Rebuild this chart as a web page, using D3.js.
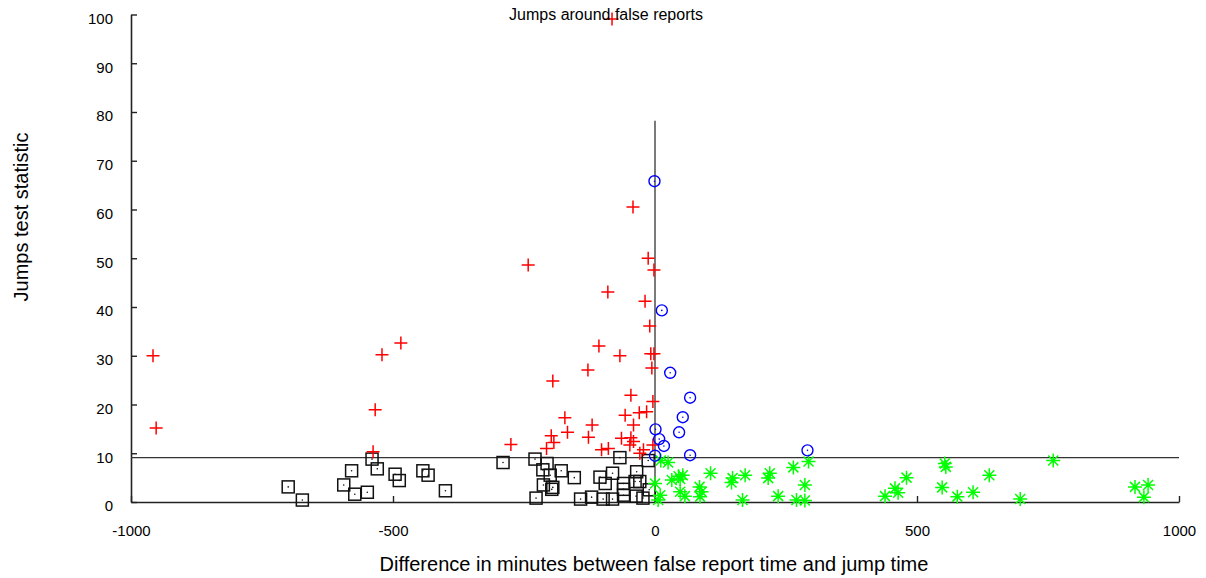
<!DOCTYPE html>
<meta charset="utf-8">
<style>
body { margin: 0; background: #fff; }
text { font-family: "Liberation Sans", Arial, sans-serif; fill: #000; }
</style>
<svg width="1206" height="578"></svg>
<script src="https://d3js.org/d3.v7.min.js"></script>
<script>

// jumps before the report (red +)
var redX = [-958, -952, -82, -521, -485, -534, -538, -242, -42, -90, -13, -2, -19, -10, -8, -2, -6,
            -107, -67, -195, -128, -46, -4, -57, -30, -16, -172, -120, -41, -167, -198, -127, -64,
            -275, -193, -207, -46, -41, -48, -102, -89, -29, -22, -4];
var redY = [30.0, 15.2, 99.1, 30.2, 32.6, 18.9, 10.3, 48.6, 60.5, 43.1, 50.0, 47.6, 41.2, 36.1, 30.4, 30.4, 27.5,
            32.0, 30.0, 24.8, 27.1, 21.9, 20.6, 17.8, 18.3, 18.5, 17.3, 15.8, 15.8, 14.3, 13.6, 13.3, 13.1,
            11.8, 12.2, 11.0, 13.2, 12.4, 11.7, 10.7, 11.0, 10.0, 10.7, 11.7];

// jumps after the report (blue o)
var blueX = [-1, 13, 29, 67, 53, 46, 1, 8, 17, 67, 0, 291];
var blueY = [65.8, 39.3, 26.5, 21.4, 17.4, 14.3, 14.9, 12.9, 11.5, 9.6, 9.5, 10.6];

// below threshold, before (black squares)
var blackX = [-700, -673, -579, -594, -573, -549, -540, -530, -496, -488, -443, -433, -400, -290, -229,
              -206, -214, -200, -213, -197, -195, -179, -154, -227, -142, -121, -105, -95, -81, -67,
              -99, -81, -60, -60, -60, -35, -38, -29, -36, -23, -13, -11];
var blackY = [3.1, 0.4, 6.4, 3.5, 1.6, 2.0, 8.8, 6.8, 5.7, 4.4, 6.4, 5.5, 2.3, 8.1, 8.8,
              7.9, 6.6, 5.5, 3.5, 2.6, 3.0, 6.4, 5.0, 0.8, 0.6, 1.0, 5.1, 3.8, 5.9, 9.1,
              0.6, 0.6, 3.8, 2.6, 1.4, 6.2, 4.2, 4.2, 1.2, 0.8, 8.5, 2.5];

// below threshold, after (green *)
var greenX = [11, 25, 0, 10, 6, 32, 45, 53, 48, 48, 57, 85, 89, 86, 106, 148, 146, 172, 167, 219, 216,
              264, 293, 286, 235, 270, 286, 439, 458, 464, 480, 553, 555, 548, 577, 607, 638, 697,
              760, 916, 941, 933];
var greenY = [8.5, 8.1, 3.8, 1.4, 0.4, 4.5, 5.3, 5.5, 4.7, 2.1, 1.2, 3.1, 2.1, 1.1, 5.9, 4.9, 4.0, 5.5, 0.4, 5.9, 4.9,
              7.1, 8.3, 3.5, 1.2, 0.4, 0.3, 1.2, 2.8, 1.9, 5.0, 7.9, 7.2, 3.0, 1.1, 2.0, 5.5, 0.6,
              8.5, 3.1, 3.5, 1.0];

var xTicks = [-1000, -500, 0, 500, 1000];
var yTicks = [0, 10, 20, 30, 40, 50, 60, 70, 80, 90, 100];
var threshold = 9.1;
var windowTop = 78.2;

var svg = d3.select("svg");

var x = d3.scaleLinear().domain([-1000, 1000]).range([131, 1179]);
var y = d3.scaleLinear().domain([0, 100]).range([502, 14.5]);

function plain(d) { return String(d); }  // hyphen minus, like the original

// axes, ticks pointing inward
svg.append("g")
    .attr("transform", "translate(0,502)")
    .call(d3.axisTop(x).tickValues(xTicks).tickSize(6).tickSizeOuter(0).tickFormat(plain))
    .call(function(g) {
      g.select(".domain").attr("stroke", "#222").attr("stroke-width", 1.6);
      g.selectAll(".tick line").attr("stroke", "#222").attr("stroke-width", 1.4);
      g.selectAll(".tick text").attr("y", 34).attr("dy", 0).style("font-size", "15px")
          .attr("font-family", "Liberation Sans, Arial, sans-serif").attr("fill", "#000");
    });

svg.append("g")
    .attr("transform", "translate(131,0)")
    .call(d3.axisRight(y).tickValues(yTicks).tickSize(6).tickSizeOuter(0).tickFormat(plain))
    .call(function(g) {
      g.select(".domain").attr("stroke", "#222").attr("stroke-width", 1.6);
      g.selectAll(".tick line").attr("stroke", "#222").attr("stroke-width", 1.4);
      g.selectAll(".tick text").attr("x", -18).attr("y", 4).attr("text-anchor", "end").style("font-size", "15px")
          .attr("font-family", "Liberation Sans, Arial, sans-serif").attr("fill", "#000");
    });

// threshold and report time lines
svg.append("line")
    .attr("x1", x(-1000)).attr("x2", x(1000))
    .attr("y1", y(threshold)).attr("y2", y(threshold))
    .attr("stroke", "#333").attr("stroke-width", 1.3);

svg.append("line")
    .attr("x1", x(0)).attr("x2", x(0))
    .attr("y1", y(0)).attr("y2", y(windowTop))
    .attr("stroke", "#333").attr("stroke-width", 1.3);

function pts(xs, ys) {
  return xs.map(function(v, i) { return [v, ys[i]]; });
}

// markers
var gBlack = svg.append("g");
gBlack.selectAll("rect").data(pts(blackX, blackY)).enter().append("rect")
    .attr("x", function(d) { return x(d[0]) - 6; })
    .attr("y", function(d) { return y(d[1]) - 6; })
    .attr("width", 12).attr("height", 12)
    .attr("fill", "none").attr("stroke", "#111").attr("stroke-width", 1.5);
gBlack.selectAll("circle").data(pts(blackX, blackY)).enter().append("circle")
    .attr("cx", function(d) { return x(d[0]); })
    .attr("cy", function(d) { return y(d[1]); })
    .attr("r", 0.8).attr("fill", "#111");

var gGreen = svg.append("g");
gGreen.selectAll("path").data(pts(greenX, greenY)).enter().append("path")
    .attr("d", function(d) {
      var cx = x(d[0]), cy = y(d[1]), r = 7, q = 5;
      return "M" + (cx - r) + "," + cy + "H" + (cx + r) +
             "M" + cx + "," + (cy - r) + "V" + (cy + r) +
             "M" + (cx - q) + "," + (cy - q) + "L" + (cx + q) + "," + (cy + q) +
             "M" + (cx - q) + "," + (cy + q) + "L" + (cx + q) + "," + (cy - q);
    })
    .attr("fill", "none").attr("stroke", "#00ff00").attr("stroke-width", 1.5);

var gRed = svg.append("g");
gRed.selectAll("path").data(pts(redX, redY)).enter().append("path")
    .attr("d", function(d) {
      var cx = x(d[0]), cy = y(d[1]), r = 6.5;
      return "M" + (cx - r) + "," + cy + "H" + (cx + r) + "M" + cx + "," + (cy - r) + "V" + (cy + r);
    })
    .attr("fill", "none").attr("stroke", "#ff0000").attr("stroke-width", 1.5);

var gBlue = svg.append("g");
gBlue.selectAll("circle.o").data(pts(blueX, blueY)).enter().append("circle")
    .attr("class", "o")
    .attr("cx", function(d) { return x(d[0]); })
    .attr("cy", function(d) { return y(d[1]); })
    .attr("r", 5.5).attr("fill", "none").attr("stroke", "#0000ff").attr("stroke-width", 1.4);
gBlue.selectAll("circle.c").data(pts(blueX, blueY)).enter().append("circle")
    .attr("class", "c")
    .attr("cx", function(d) { return x(d[0]); })
    .attr("cy", function(d) { return y(d[1]); })
    .attr("r", 0.8).attr("fill", "#0000ff");

// labels
svg.append("text")
    .attr("x", 606).attr("y", 20)
    .attr("text-anchor", "middle")
    .style("font-size", "16px")
    .text("Jumps around false reports");

svg.append("text")
    .attr("x", 654).attr("y", 571)
    .attr("text-anchor", "middle")
    .style("font-size", "20px")
    .text("Difference in minutes between false report time and jump time");

svg.append("text")
    .attr("transform", "translate(28,217) rotate(-90)")
    .attr("text-anchor", "middle")
    .style("font-size", "20px")
    .text("Jumps test statistic");

</script>
